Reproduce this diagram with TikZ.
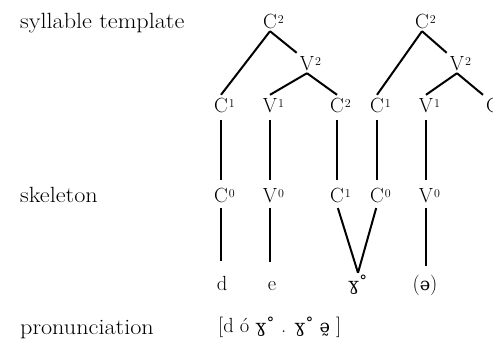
\documentclass[tikz,border=0pt]{standalone}
\usepackage{fontspec}
\newfontfamily\lblfont{Latin Modern Roman}[FakeStretch=1.1]
\newfontfamily\ipa{DejaVu Serif}[Scale=0.86]
\newcommand\sups[1]{\rlap{\kern1pt\raisebox{5pt}{\fontsize{12}{12}\selectfont #1}}}
\begin{document}
\begin{tikzpicture}[x=1pt,y=-1pt,
  seg/.style={font=\fontsize{20.5}{24}\selectfont, text height=14pt, text depth=0pt, inner sep=3pt},
  lbl/.style={font=\lblfont\fontsize{22}{26}\selectfont, anchor=base west, inner sep=0pt},
  br/.style={line width=2pt},
  vt/.style={br, shorten <=5pt, shorten >=5pt},
]
\useasboundingbox (0,0) rectangle (493,338);

% left labels
\node[lbl] (lsyl) at (20,28) {syllable template};
\node[lbl] (lskel) at (20,202) {skeleton};
\node[lbl] (lpron) at (20,334) {pronunciation};

% syllable template, top
\node[seg] (tC2a) at (270,21) {C\sups{2}};
\node[seg] (tV2a) at (307,63) {V\sups{2}};
\node[seg] (tC2b) at (422,21) {C\sups{2}};
\node[seg] (tV2b) at (457,63) {V\sups{2}};

% syllable template, row 1
\node[seg] (aC1) at (221,105) {C\sups{1}};
\node[seg] (aV1) at (270,105) {V\sups{1}};
\node[seg] (aC2) at (337,105) {C\sups{2}};
\node[seg] (bC1) at (377,105) {C\sups{1}};
\node[seg] (bV1) at (426,105) {V\sups{1}};
\node[seg] (bC2) at (493,105) {C\sups{2}};

% skeleton
\node[seg] (sC0a) at (221,195) {C\sups{0}};
\node[seg] (sV0a) at (270,195) {V\sups{0}};
\node[seg] (sC1)  at (337,195) {C\sups{1}};
\node[seg] (sC0b) at (377,195) {C\sups{0}};
\node[seg] (sV0b) at (426,195) {V\sups{0}};

% segments
\node[seg] (pd) at (222,283) {d};
\node[seg] (pe) at (272,283) {e};
\node[seg] (pg) at (358,283) {{\ipa ɣ˚}};
\node[seg] (pa) at (425,283) {({\ipa ə})};

% pronunciation
\node[anchor=base west, inner sep=0pt, font=\fontsize{20.5}{24}\selectfont] (tr) at (218,332)
  {[d ó {\ipa ɣ˚} . {\ipa ɣ˚ ə̰} ]};

% tree connectors
\draw[br] (tC2a.south) -- (aC1.north);
\draw[br] (tC2a.south) -- (tV2a.north west);
\draw[br] (tV2a.south) -- (aV1.north);
\draw[br] (tV2a.south) -- (aC2.north);
\draw[br] (tC2b.south) -- (bC1.north);
\draw[br] (tC2b.south) -- (tV2b.north west);
\draw[br] (tV2b.south) -- (bV1.north);
\draw[br] (tV2b.south) -- (bC2.north west);

% template to skeleton
\draw[vt] (aC1) -- (sC0a);
\draw[vt] (aV1) -- (sV0a);
\draw[vt] (aC2) -- (sC1);
\draw[vt] (bC1) -- (sC0b);
\draw[vt] (bV1) -- (sV0b);

% skeleton to segments
\draw[br, shorten <=3pt, shorten >=12pt] (sC0a.south) -- (sC0a.south |- pd.north);
\draw[br, shorten <=3pt, shorten >=11pt] (sV0a.south) -- (sV0a.south |- pe.north);
\draw[br, shorten <=3pt] (sC1.south) -- (pg.north);
\draw[br, shorten <=3pt] (sC0b.south) -- (pg.north);
\draw[br, shorten <=3pt, shorten >=7pt] (sV0b.south) -- (sV0b.south |- pa.north);
\end{tikzpicture}
\end{document}
